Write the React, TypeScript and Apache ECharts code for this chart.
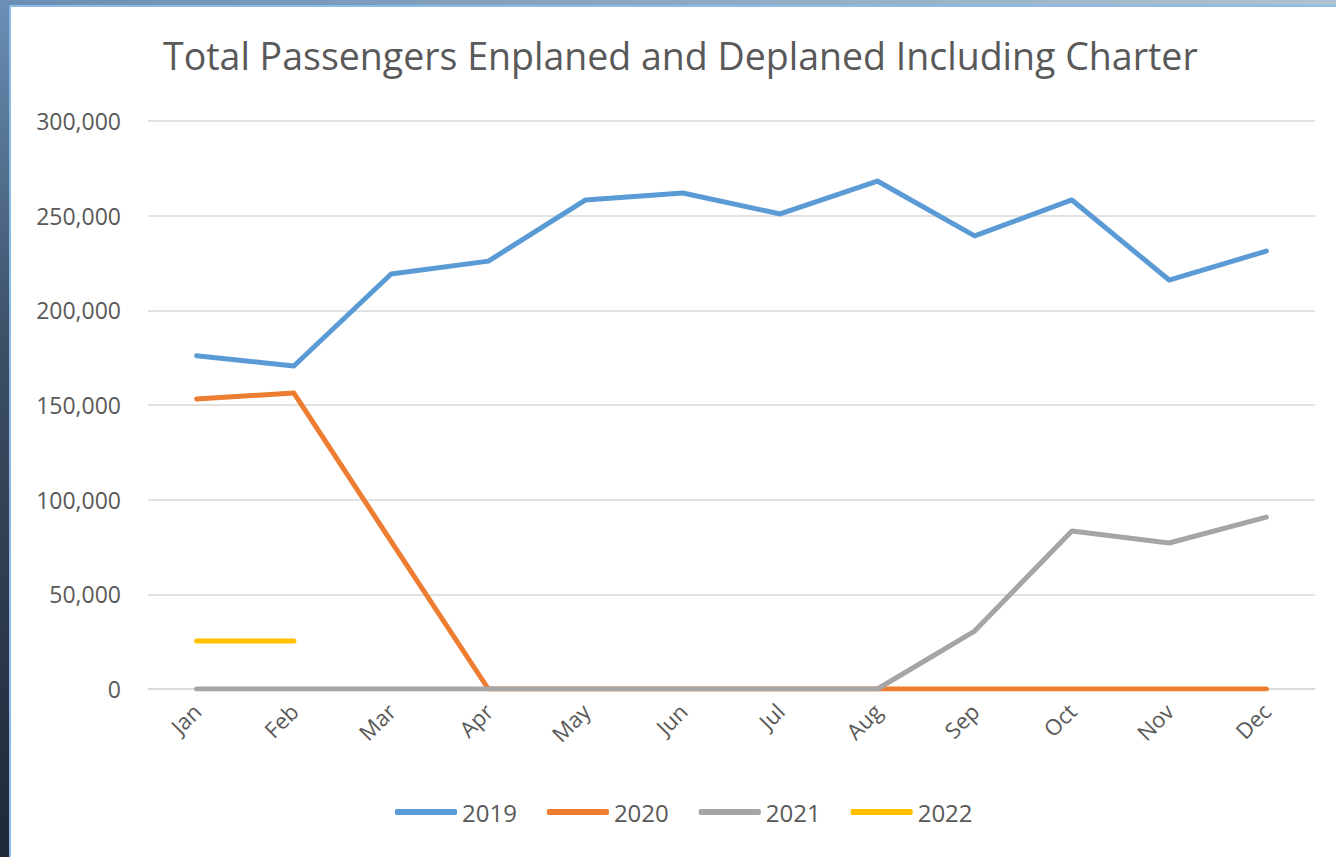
import React, { useEffect, useRef } from "react";
import * as echarts from "echarts";

const months = ["Jan", "Feb", "Mar", "Apr", "May", "Jun", "Jul", "Aug", "Sep", "Oct", "Nov", "Dec"];
const y2019 = [176000, 170600, 219200, 226000, 258300, 262000, 250900, 268300, 239300, 258300, 216000, 231300];
const y2020 = [153200, 156300, 78000, 0, 0, 0, 0, 0, 0, 0, 0, 0];
const y2021 = [0, 0, 0, 0, 0, 0, 0, 0, 30600, 83500, 77100, 90800];
const y2022 = [25400, 25400];
const seriesNames = ["2019", "2020", "2021", "2022"];
const colors = ["#5b9bd5", "#ed7d31", "#a5a5a5", "#ffc000"];
const title = "Total Passengers Enplaned and Deplaned Including Charter";

const FONT = "'Open Sans', 'Noto Sans', sans-serif";

export default function App() {
  const ref = useRef<HTMLDivElement>(null);
  useEffect(() => {
    if (!ref.current) return;
    const chart = echarts.init(ref.current, undefined, { renderer: "svg" });
    const data = [y2019, y2020, y2021, y2022];
    chart.setOption({
      animation: false,
      backgroundColor: "#ffffff",
      color: colors,
      textStyle: { fontFamily: FONT },
      graphic: [
        {
          type: "rect",
          z: -100,
          shape: { x: 0, y: 0, width: 1336, height: 857 },
          style: {
            fill: new echarts.graphic.LinearGradient(0, 0, 0, 1, [
              { offset: 0, color: "#6a8fb6" },
              { offset: 0.4, color: "#3c4f66" },
              { offset: 1, color: "#1e2836" },
            ]),
          },
        },
        {
          type: "rect",
          z: -99,
          shape: { x: 0, y: 0, width: 1336, height: 7 },
          style: {
            fill: new echarts.graphic.LinearGradient(0, 0, 1, 0, [
              { offset: 0, color: "#6b8eb4" },
              { offset: 1, color: "#aec3d0" },
            ]),
          },
        },
        {
          type: "rect",
          z: -98,
          shape: { x: 10, y: 6, width: 1330, height: 860 },
          style: { fill: "#ffffff", stroke: "#8dbbe8", lineWidth: 2 },
        },
        {
          type: "text",
          left: 163,
          top: 36,
          style: {
            text: title,
            fontSize: 37.5,
            fill: "#595959",
            fontFamily: FONT,
          },
        },
      ],
      grid: { left: 148, right: 21, top: 121, bottom: 168 },
      legend: {
        bottom: 28,
        left: 390,
        data: seriesNames,
        icon: "roundRect",
        itemWidth: 62,
        itemHeight: 6,
        itemGap: 30,
        textStyle: { fontSize: 24, color: "#595959", fontFamily: FONT },
      },
      xAxis: {
        type: "category",
        data: months,
        boundaryGap: true,
        axisLine: { lineStyle: { color: "#d9d9d9", width: 1.5 } },
        axisTick: { show: false },
        axisLabel: { rotate: 45, fontSize: 22, color: "#595959", margin: 18, fontFamily: FONT },
      },
      yAxis: {
        type: "value",
        min: 0,
        max: 300000,
        interval: 50000,
        axisLine: { show: false },
        axisTick: { show: false },
        splitLine: { lineStyle: { color: "#d9d9d9", width: 1.5 } },
        axisLabel: {
          fontSize: 23,
          color: "#595959",
          margin: 27,
          fontFamily: FONT,
          formatter: (v: number) => v.toLocaleString("en-US"),
        },
      },
      series: seriesNames.map((name, i) => ({
        name,
        type: "line",
        data: data[i],
        symbol: "none",
        lineStyle: { width: 5, color: colors[i], cap: "round", join: "round" },
        itemStyle: { color: colors[i] },
      })),
    });
    return () => chart.dispose();
  }, []);
  return (
    <div style={{ position: "fixed", left: 0, top: 0, width: 1336, height: 857 }}>
      <div ref={ref} style={{ width: 1336, height: 857 }} />
    </div>
  );
}
